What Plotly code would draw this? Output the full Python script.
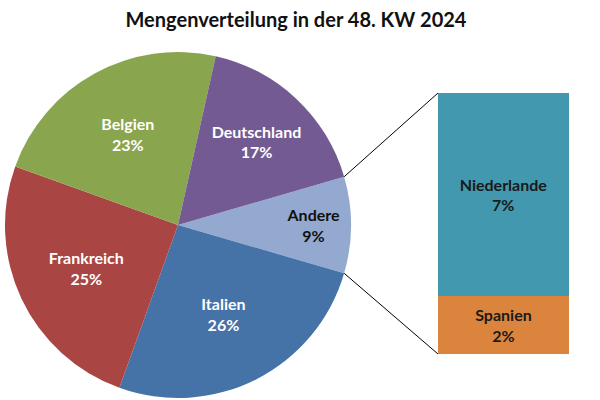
import math
import plotly.graph_objects as go

title = "Mengenverteilung in der 48. KW 2024"

# Pie data (percent), clockwise starting with "Andere"
pie_labels = ["Andere", "Italien", "Frankreich", "Belgien", "Deutschland"]
pie_values = [9, 26, 25, 23, 17]
pie_colors = ["#94A9CF", "#4572A7", "#A94644", "#89A54E", "#735A92"]
pie_text_colors = ["#111111", "#FFFFFF", "#FFFFFF", "#FFFFFF", "#FFFFFF"]

# Breakdown of "Andere" (percent), bottom to top
bar_labels = ["Spanien", "Niederlande"]
bar_values = [2, 7]
bar_colors = ["#DB843D", "#4298AF"]

W, H = 600, 400
FONT = "Lato"

# layout geometry (pixels)
cx, cy, r = 178, 225, 173
bar_l, bar_r, bar_t, bar_b = 438, 569, 93, 354

pie_dom_x = [(cx - r) / W, (cx + r) / W]
pie_dom_y = [1 - (cy + r) / H, 1 - (cy - r) / H]
bar_dom_x = [bar_l / W, bar_r / W]
bar_dom_y = [1 - bar_b / H, 1 - bar_t / H]

total = sum(pie_values)
half_angle = pie_values[0] / total * 360 / 2
rotation = 90 - half_angle

fig = go.Figure()
fig.add_trace(go.Pie(
    labels=pie_labels,
    values=pie_values,
    sort=False,
    direction="clockwise",
    rotation=rotation,
    marker=dict(colors=pie_colors, line=dict(width=0)),
    texttemplate="%{label}<br>%{value}%",
    textposition="inside",
    insidetextorientation="horizontal",
    insidetextfont=dict(family=FONT, size=16, color=pie_text_colors, weight="bold"),
    domain=dict(x=pie_dom_x, y=pie_dom_y),
    showlegend=False,
    hoverinfo="label+value",
))

for lab, val, col in zip(bar_labels, bar_values, bar_colors):
    fig.add_trace(go.Bar(
        x=["Andere"],
        y=[val],
        name=lab,
        marker=dict(color=col, line=dict(width=0)),
        text=[f"{lab}<br>{val}%"],
        textposition="inside",
        insidetextanchor="middle",
        textangle=0,
        textfont=dict(family=FONT, size=16, color="#1a1a1a", weight="bold"),
        xaxis="x2",
        yaxis="y2",
        showlegend=False,
    ))

# connector lines from the "Andere" slice edge to the bar corners
ang = math.radians(half_angle)
p_top = ((cx + r * math.cos(ang)) / W, 1 - (cy - r * math.sin(ang)) / H)
p_bot = ((cx + r * math.cos(ang)) / W, 1 - (cy + r * math.sin(ang)) / H)
shapes = [
    dict(type="line", xref="paper", yref="paper", x0=p_top[0], y0=p_top[1],
         x1=bar_dom_x[0], y1=bar_dom_y[1], line=dict(color="#000000", width=1)),
    dict(type="line", xref="paper", yref="paper", x0=p_bot[0], y0=p_bot[1],
         x1=bar_dom_x[0], y1=bar_dom_y[0], line=dict(color="#000000", width=1)),
]

fig.update_layout(
    width=W, height=H,
    margin=dict(l=0, r=0, t=0, b=0),
    paper_bgcolor="white",
    plot_bgcolor="white",
    barmode="stack",
    bargap=0,
    uniformtext=dict(mode=False),
    title=dict(text=title, x=296 / W, xanchor="center", y=1 - 20 / H, yanchor="middle",
               font=dict(family=FONT, size=20, color="#111111", weight="bold")),
    xaxis2=dict(domain=bar_dom_x, range=[-0.5, 0.5], visible=False, fixedrange=True),
    yaxis2=dict(domain=bar_dom_y, range=[0, sum(bar_values)], visible=False, fixedrange=True, anchor="x2"),
    shapes=shapes,
)

fig.write_html(
    "out.html",
    config={"displayModeBar": False},
    post_script="document.body.style.margin='0';document.body.style.overflow='hidden';",
)
